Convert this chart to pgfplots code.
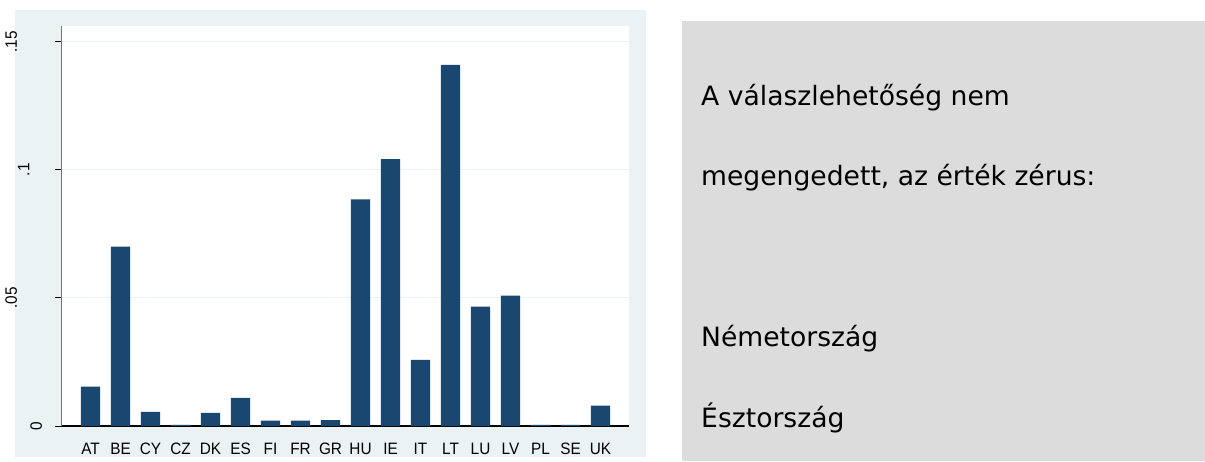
\documentclass[border=0pt]{standalone}
\usepackage{pgfplots}
\pgfplotsset{compat=1.18}
\usepackage{fontspec}
\setmainfont{Liberation Sans}
\newfontfamily\narrowsans{Liberation Sans}[FakeStretch=0.93]
\newfontfamily\dejavu{DejaVu Sans}
\definecolor{panelbg}{RGB}{234,242,243}
\definecolor{gridc}{RGB}{234,242,243}
\definecolor{barnavy}{RGB}{26,71,111}
\definecolor{boxgray}{RGB}{220,220,220}
\begin{document}
\begin{tikzpicture}
\useasboundingbox (0pt,0pt) rectangle (1205pt,461pt);
\fill[white] (0pt,0pt) rectangle (1205pt,461pt);
\fill[panelbg] (15pt,4pt) rectangle (646pt,451pt);
\fill[boxgray] (682pt,0pt) rectangle (1205pt,440pt);
\begin{axis}[
  at={(62pt,35pt)}, anchor=south west,
  width=567pt, height=400pt, scale only axis,
  xmin=-0.953, xmax=17.95, ymin=0, ymax=0.1561,
  axis lines*=left,
  x axis line style={black, line width=1.2pt},
  y axis line style={black!55, line width=1pt},
  axis background/.style={fill=white},
  ybar, bar width=19.3pt,
  xtick={0,...,17},
  xticklabels={AT,BE,CY,CZ,DK,ES,FI,FR,GR,HU,IE,IT,LT,LU,LV,PL,SE,UK},
  x tick style={draw=none},
  xticklabel style={anchor=base, yshift=-21pt, font=\narrowsans\fontsize{16.5}{17}\selectfont},
  ytick={0,0.05,0.1,0.15},
  yticklabels={0,\raisebox{25pt}{.05},\raisebox{12.5pt}{.1},\raisebox{25pt}{.15}},
  yticklabel style={xshift=-13pt, rotate=90, anchor=base, font=\narrowsans\fontsize{16.5}{17}\selectfont},
  tick align=outside, major tick length=7pt,
  y tick style={black, line width=0.8pt},
  ymajorgrids, grid style={color=gridc, line width=1pt},
  clip=false,
]
\addplot[fill=barnavy, draw=none] coordinates {
(0,0.0154) (1,0.0700) (2,0.0055) (3,0.0004) (4,0.0051) (5,0.0110)
(6,0.0021) (7,0.0021) (8,0.0023) (9,0.0884) (10,0.1041) (11,0.0258)
(12,0.1409) (13,0.0466) (14,0.0509) (15,0.0004) (16,0.0004) (17,0.0080)
};
\end{axis}
\begin{scope}[every node/.style={anchor=base west, inner sep=0pt, font=\dejavu\fontsize{26.6}{30}\selectfont, text=black}]
\node at (701pt,355pt) {A válaszlehetőség nem};
\node at (701pt,275pt) {megengedett, az érték zérus:};
\node at (701pt,114pt) {Németország};
\node at (701pt,34pt) {Észtország};
\end{scope}
\end{tikzpicture}
\end{document}
